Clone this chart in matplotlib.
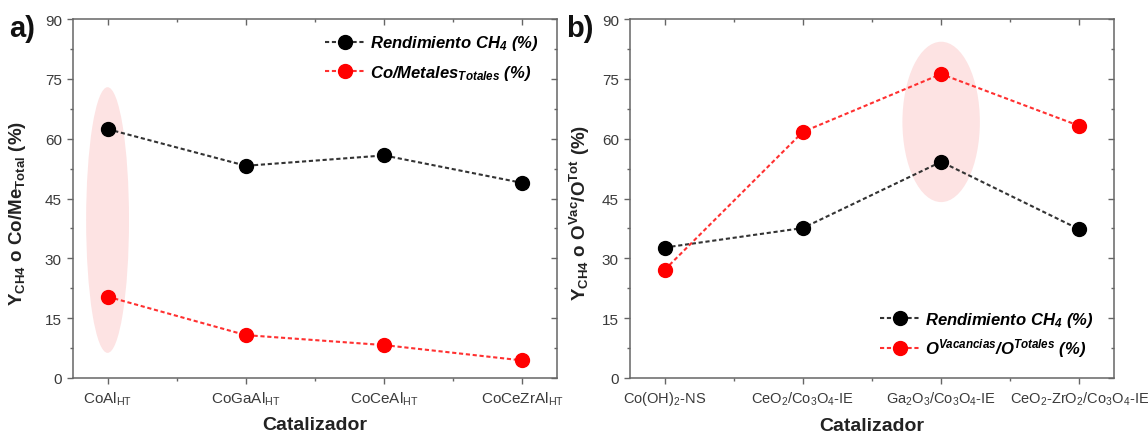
import matplotlib
matplotlib.use("Agg")
import matplotlib.pyplot as plt
from matplotlib.patches import Ellipse
from matplotlib.ticker import MultipleLocator, FixedLocator

plt.rcParams['font.family'] = ['Liberation Sans', 'DejaVu Sans']
plt.rcParams['mathtext.default'] = 'regular'

# Panel a data
cats_a = ["CoAl$_{HT}$", "CoGaAl$_{HT}$", "CoCeAl$_{HT}$", "CoCeZrAl$_{HT}$"]
rend_a = [62.4, 53.2, 55.8, 48.9]
co_met_a = [20.4, 10.75, 8.25, 4.4]

# Panel b data
cats_b = ["Co(OH)$_2$-NS", "CeO$_2$/Co$_3$O$_4$-IE", "Ga$_2$O$_3$/Co$_3$O$_4$-IE",
          "CeO$_2$-ZrO$_2$/Co$_3$O$_4$-IE"]
rend_b = [32.7, 37.6, 54.2, 37.25]
ovac_b = [27.1, 61.7, 76.2, 63.2]

SPINE = '#666666'
TXT = '#3a3a3a'
W, H = 1148, 435

fig = plt.figure(figsize=(W / 100, H / 100), dpi=100)
axA = fig.add_axes([73 / W, 1 - 379 / H, (557 - 73) / W, 359 / H])
axB = fig.add_axes([630 / W, 1 - 379 / H, (1114 - 630) / W, 359 / H])

ls = (0, (2.0, 1.3))


def style(ax, cats, ylabel, xlabsize):
    ax.set_xlim(-0.25, 3.25)
    ax.set_ylim(0, 90)
    xt = list(range(len(cats)))
    xm = [0.5, 1.5, 2.5]
    ax.xaxis.set_major_locator(FixedLocator(xt))
    ax.set_xticklabels(cats)
    ax.xaxis.set_minor_locator(FixedLocator(xm))
    ax.yaxis.set_major_locator(MultipleLocator(15))
    ax.yaxis.set_minor_locator(MultipleLocator(7.5))
    for s in ax.spines.values():
        s.set_color(SPINE)
        s.set_linewidth(1.1)
    ax.tick_params(which='both', color=SPINE, width=1.0, direction='out')
    ax.tick_params(which='major', length=4.5, labelsize=11, labelcolor=TXT)
    ax.tick_params(axis='x', which='major', labelsize=xlabsize)
    ax.tick_params(which='minor', length=2.5)
    # inward ticks on top and right
    top = ax.secondary_xaxis('top')
    top.xaxis.set_major_locator(FixedLocator(xt))
    top.xaxis.set_minor_locator(FixedLocator(xm))
    top.tick_params(which='both', direction='in', color=SPINE, width=1.0, labeltop=False)
    top.tick_params(which='major', length=4.5)
    top.tick_params(which='minor', length=2.5)
    top.spines['top'].set_visible(False)
    right = ax.secondary_yaxis('right')
    right.yaxis.set_major_locator(MultipleLocator(15))
    right.yaxis.set_minor_locator(MultipleLocator(7.5))
    right.tick_params(which='both', direction='in', color=SPINE, width=1.0, labelright=False)
    right.tick_params(which='major', length=4.5)
    right.tick_params(which='minor', length=2.5)
    right.spines['right'].set_visible(False)
    ax.set_xlabel("Catalizador", fontsize=14, fontweight='bold', color='#222222', labelpad=7)
    ax.set_ylabel(ylabel, fontsize=13.5, fontweight='bold', color='#222222', labelpad=3)


leg_prop = {'size': 12, 'weight': 'bold', 'style': 'italic'}

# Panel a
axA.add_patch(Ellipse((0, 39.6), 0.31, 66.6, facecolor='#fde3e3', edgecolor='none', zorder=0))
axA.plot(range(4), rend_a, linestyle=ls, color='#333333', lw=1.5, marker='o', ms=10,
         mfc='black', mec='black', label="Rendimiento CH$_4$ (%)", zorder=3)
axA.plot(range(4), co_met_a, linestyle=ls, color='#ff3030', lw=1.5, marker='o', ms=10,
         mfc='#ff0000', mec='#ff0000', label="Co/Metales$_{Totales}$ (%)", zorder=3)
style(axA, cats_a, "Y$_{CH4}$ o Co/Me$_{Total}$ (%)", 11)
axA.yaxis.set_label_coords(-0.092, 0.462)
axA.legend(loc='upper left', bbox_to_anchor=(0.521, 0.96), frameon=False, prop=leg_prop,
           borderpad=0, borderaxespad=0,
           handlelength=2.4, handletextpad=0.3, labelspacing=0.65)

# Panel b
axB.add_patch(Ellipse((2, 64.2), 0.56, 40.2, facecolor='#fde3e3', edgecolor='none', zorder=0))
axB.plot(range(4), rend_b, linestyle=ls, color='#333333', lw=1.5, marker='o', ms=10,
         mfc='black', mec='black', label="Rendimiento CH$_4$ (%)", zorder=3)
axB.plot(range(4), ovac_b, linestyle=ls, color='#ff3030', lw=1.5, marker='o', ms=10,
         mfc='#ff0000', mec='#ff0000', label="O$^{Vacancias}$/O$^{Totales}$ (%)", zorder=3)
style(axB, cats_b, "Y$_{CH4}$ o O$^{Vac}$/O$^{Tot}$ (%)", 10.5)
axB.yaxis.set_label_coords(-0.078, 0.462)
axB.legend(loc='upper left', bbox_to_anchor=(0.517, 0.19), frameon=False, prop=leg_prop,
           borderpad=0, borderaxespad=0,
           handlelength=2.4, handletextpad=0.3, labelspacing=0.45)

fig.text(9 / W, 1 - 29 / H, "a)", fontsize=21, fontweight='bold', color='#111111', va='center')
fig.text(566 / W, 1 - 29 / H, "b)", fontsize=21, fontweight='bold', color='#111111', va='center')

fig.savefig("out.png", dpi=100)
